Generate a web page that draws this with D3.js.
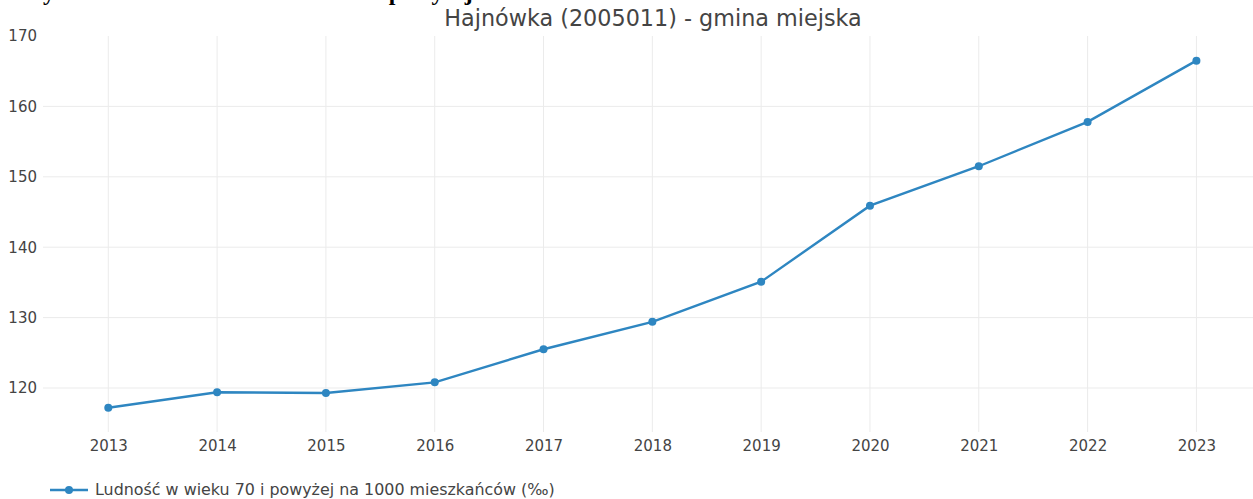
<!DOCTYPE html>
<head>
    <meta charset="utf-8" />
    <script src="https://d3js.org/d3.v7.min.js"></script>
    <style>
        body {
            margin: 0;
            background: #fff;
        }
        svg text {
            font-family: "DejaVu Sans", Verdana, sans-serif;
        }
    </style>
</head>
<body>
<div id="chart"></div>
<script>
    // dane
    const years = [2013, 2014, 2015, 2016, 2017, 2018, 2019, 2020, 2021, 2022, 2023];
    const values = [117.2, 119.4, 119.3, 120.8, 125.5, 129.4, 135.1, 145.9, 151.5, 157.8, 166.5];
    const yTicks = [120, 130, 140, 150, 160, 170];
    const title = "Hajnówka (2005011) - gmina miejska";
    const seriesName = "Ludność w wieku 70 i powyżej na 1000 mieszkańców (‰)";
    const heading = "Wykres 1. Ludność w wieku 70 lat i powyżej na 1000 mieszkańców";

    const width = 1253, height = 499;
    const plot = {left: 43, right: 1253, top: 36, bottom: 432};
    const color = "#2e86c1";

    const svg = d3.select("#chart")
        .append("svg")
        .attr("width", width)
        .attr("height", height);

    const x = d3.scaleLinear().domain([2012.4, 2023.52]).range([plot.left, plot.right]);
    const y = d3.scaleLinear().domain([113.75, 170]).range([plot.bottom, plot.top]);

    // obcięty nagłówek strony (widać tylko ogonki liter)
    svg.append("text")
        .attr("x", 20)
        .attr("y", 0)
        .style("font-family", "'Liberation Serif', 'Times New Roman', serif")
        .style("font-weight", "bold")
        .style("font-size", "24px")
        .attr("fill", "#000")
        .text(heading);

    // siatka
    svg.append("g")
        .selectAll("line")
        .data(years)
        .enter()
        .append("line")
        .attr("x1", d => x(d))
        .attr("x2", d => x(d))
        .attr("y1", plot.top)
        .attr("y2", plot.bottom)
        .attr("stroke", "#ebebeb")
        .attr("stroke-width", 1);

    svg.append("g")
        .selectAll("line")
        .data(yTicks.filter(d => d < 170))
        .enter()
        .append("line")
        .attr("x1", plot.left)
        .attr("x2", plot.right)
        .attr("y1", d => y(d))
        .attr("y2", d => y(d))
        .attr("stroke", "#ebebeb")
        .attr("stroke-width", 1);

    // osie
    const xAxis = svg.append("g")
        .attr("transform", "translate(0," + (plot.bottom + 5) + ")")
        .call(d3.axisBottom(x).tickValues(years).tickFormat(d3.format("d")).tickSize(0));
    const yAxis = svg.append("g")
        .attr("transform", "translate(" + (plot.left - 3) + ",0)")
        .call(d3.axisLeft(y).tickValues(yTicks).tickSize(0));
    [xAxis, yAxis].forEach(function(a) {
        a.select(".domain").remove();
        a.selectAll("text")
            .style("font-size", "15px")
            .attr("fill", "#444");
    });

    // tytuł
    svg.append("text")
        .attr("x", 653)
        .attr("y", 26)
        .attr("text-anchor", "middle")
        .style("font-size", "22.3px")
        .attr("fill", "#444")
        .text(title);

    // linia
    const line = d3.line()
        .x((d, i) => x(years[i]))
        .y(d => y(d));

    svg.append("path")
        .datum(values)
        .attr("d", line)
        .attr("fill", "none")
        .attr("stroke", color)
        .attr("stroke-width", 2.4);

    svg.append("g")
        .selectAll("circle")
        .data(values)
        .enter()
        .append("circle")
        .attr("cx", (d, i) => x(years[i]))
        .attr("cy", d => y(d))
        .attr("r", 4)
        .attr("fill", color);

    // legenda
    const legend = svg.append("g").attr("transform", "translate(50,490)");
    legend.append("line")
        .attr("x1", 0).attr("x2", 38)
        .attr("stroke", color)
        .attr("stroke-width", 2.4);
    legend.append("circle")
        .attr("cx", 19)
        .attr("r", 4)
        .attr("fill", color);
    legend.append("text")
        .attr("x", 45)
        .attr("dy", "0.32em")
        .style("font-size", "15.9px")
        .attr("fill", "#444")
        .text(seriesName);
</script>
</body>
